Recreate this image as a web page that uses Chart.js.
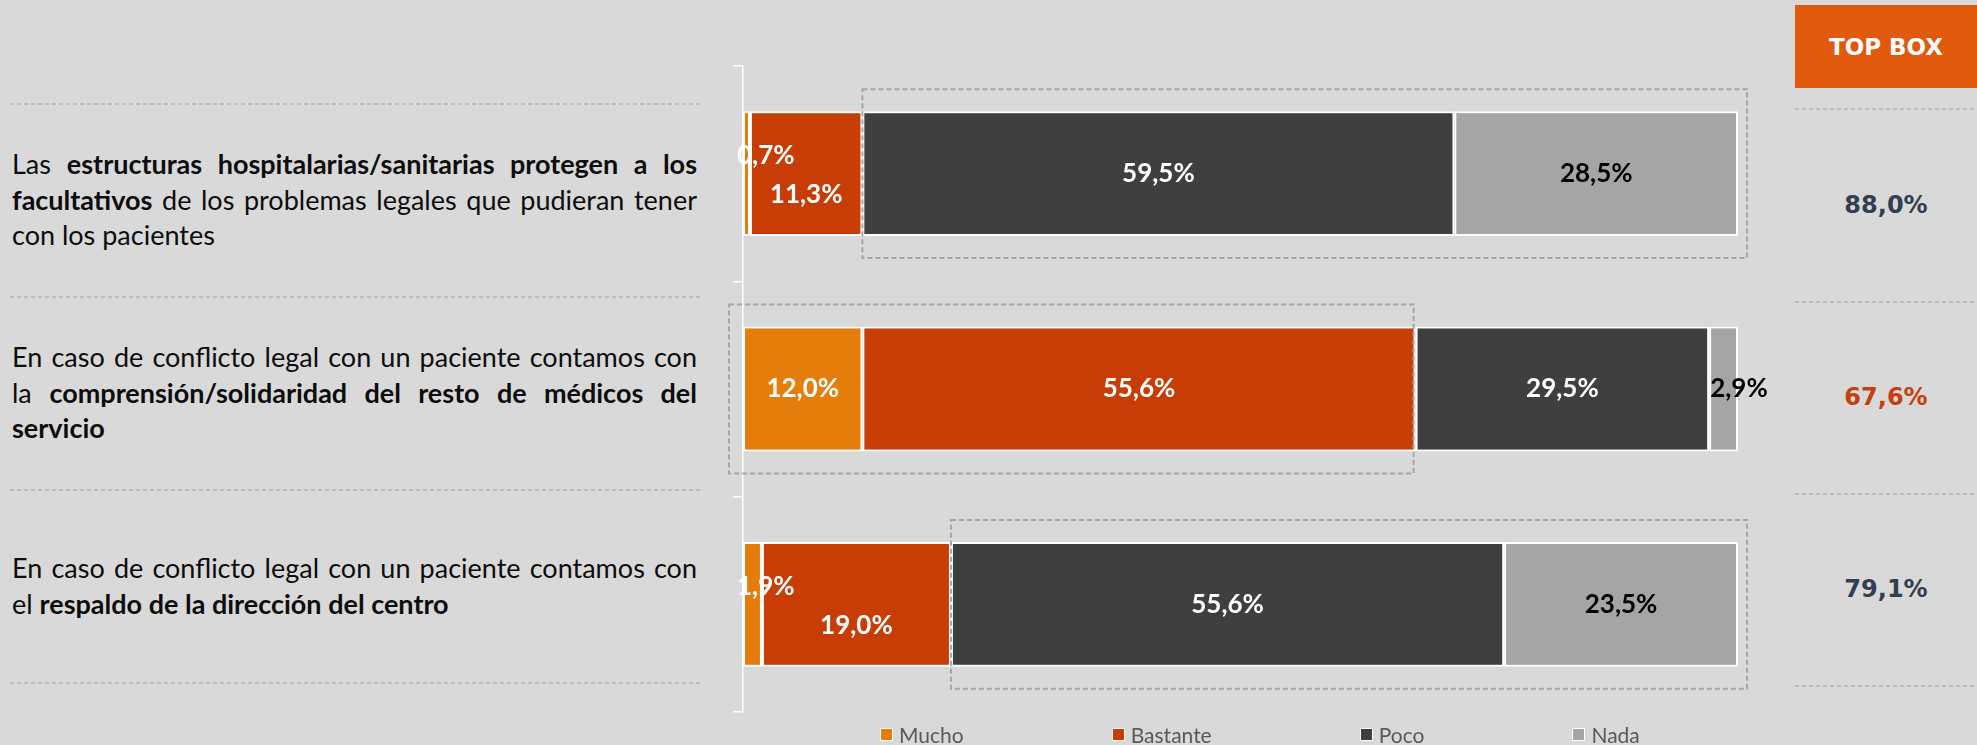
<!DOCTYPE html>
<html lang="es">
<head>
<meta charset="UTF-8">
<title>Respaldo ante conflictos legales - Top box</title>
<script src="https://cdn.jsdelivr.net/npm/chart.js"></script>
<style>
    html, body {
        margin: 0;
        height: 100%;
    }
    body {
        width: 1977px;
        height: 745px;
        position: relative;
        overflow: hidden;
        background: #d9d9d9;
        font-family: Lato, "Open Sans", sans-serif;
    }
    /* dashed separators */
    .sep {
        position: absolute;
        height: 2px;
        background: repeating-linear-gradient(90deg, #bdbdbd 0 4px, transparent 4px 7px);
    }
    .row-text {
        position: absolute;
        left: 12px;
        width: 685px;
        display: flex;
        flex-direction: column;
        justify-content: center;
        font-size: 27px;
        line-height: 35.5px;
        color: #0d0d0d;
    }
    .row-text .j {
        text-align: justify;
        text-align-last: justify;
        white-space: nowrap;
    }
    .top-head {
        position: absolute;
        left: 1795px;
        top: 5px;
        width: 182px;
        height: 83px;
        background: #e1590d;
        color: #fff;
        font: bold 23px "DejaVu Sans", sans-serif;
        display: flex;
        align-items: center;
        justify-content: center;
    }
    .top-val {
        position: absolute;
        left: 1795px;
        width: 182px;
        height: 30px;
        line-height: 30px;
        text-align: center;
        font: bold 24px "DejaVu Sans", sans-serif;
    }
    #chart-wrap {
        position: absolute;
        left: 700px;
        top: 0;
        width: 1077px;
        height: 745px;
    }
    #legend {
        position: absolute;
        left: 880px;
        top: 724px;
        height: 21px;
        display: flex;
        align-items: center;
        font-size: 21px;
        color: #595959;
    }
    #legend .item {
        display: flex;
        align-items: center;
        margin-right: 148px;
    }
    #legend .box {
        width: 11px;
        height: 11px;
        border: 1.5px solid #fff;
        margin-right: 6px;
    }
</style>
</head>
<body>

<div class="top-head">TOP BOX</div>
<div id="texts"></div>
<div id="chart-wrap"><canvas id="barChart"></canvas></div>
<div id="legend"></div>

<script>
    // --- data ---
    const categories = [
        'Las estructuras hospitalarias/sanitarias protegen a los facultativos de los problemas legales que pudieran tener con los pacientes',
        'En caso de conflicto legal con un paciente contamos con la comprensión/solidaridad del resto de médicos del servicio',
        'En caso de conflicto legal con un paciente contamos con el respaldo de la dirección del centro'
    ];
    // same texts, split in lines as shown (bold parts marked)
    const categoryLines = [
        ['Las <b>estructuras hospitalarias/sanitarias protegen a los</b>',
         '<b>facultativos</b> de los problemas legales que pudieran tener',
         'con los pacientes'],
        ['En caso de conflicto legal con un paciente contamos con',
         'la <b>comprensión/solidaridad del resto de médicos del</b>',
         '<b>servicio</b>'],
        ['En caso de conflicto legal con un paciente contamos con',
         'el <b>respaldo de la dirección del centro</b>']
    ];
    const seriesNames = ['Mucho', 'Bastante', 'Poco', 'Nada'];
    const mucho    = [0.7, 12.0, 1.9];
    const bastante = [11.3, 55.6, 19.0];
    const poco     = [59.5, 29.5, 55.6];
    const nada     = [28.5, 2.9, 23.5];
    const topBox = [88.0, 67.6, 79.1];
    const topBoxSeries = [['Poco', 'Nada'], ['Mucho', 'Bastante'], ['Poco', 'Nada']];

    const colors = ['#e47d0a', '#c83d06', '#3f3f3f', '#a5a5a5'];
    const labelColors = ['#fff', '#fff', '#fff', '#000'];

    const fmt = v => v.toFixed(1).replace('.', ',') + '%';

    // --- text column, separators and top box column ---
    const leftSeps = [103, 296, 489, 682];
    const rightSeps = [108, 301, 493, 685];
    const topBoxY = [206, 398, 590];
    const holder = document.getElementById('texts');

    leftSeps.forEach(y => {
        const d = document.createElement('div');
        d.className = 'sep';
        d.style.cssText = `left:10px;width:692px;top:${y}px`;
        holder.appendChild(d);
    });
    rightSeps.forEach(y => {
        const d = document.createElement('div');
        d.className = 'sep';
        d.style.cssText = `left:1795px;width:182px;top:${y}px`;
        holder.appendChild(d);
    });
    categoryLines.forEach((lines, i) => {
        const box = document.createElement('div');
        box.className = 'row-text';
        box.style.top = leftSeps[i] + 'px';
        box.style.height = (leftSeps[i + 1] - leftSeps[i]) + 'px';
        lines.forEach((html, k) => {
            const l = document.createElement('div');
            if (k < lines.length - 1) l.className = 'j';
            l.innerHTML = html;
            box.appendChild(l);
        });
        holder.appendChild(box);
    });
    topBox.forEach((v, i) => {
        const d = document.createElement('div');
        d.className = 'top-val';
        d.style.top = (topBoxY[i] - 15) + 'px';
        d.style.color = topBoxSeries[i].includes('Mucho') ? '#c5400e' : '#333f50';
        d.textContent = fmt(v);
        holder.appendChild(d);
    });

    // legend
    const legend = document.getElementById('legend');
    seriesNames.forEach((name, i) => {
        const it = document.createElement('div');
        it.className = 'item';
        it.innerHTML = `<span class="box" style="background:${colors[i]}"></span>${name}`;
        legend.appendChild(it);
    });

    // dashed frame around the top box segments
    const topBoxFrames = {
        id: 'topBoxFrames',
        afterDatasetsDraw(chart) {
            const {ctx, chartArea} = chart;
            ctx.save();
            ctx.strokeStyle = '#a6a6a6';
            ctx.lineWidth = 2;
            ctx.setLineDash([5, 3]);
            topBoxSeries.forEach((names, i) => {
                const idx = names.map(n => seriesNames.indexOf(n));
                const first = chart.getDatasetMeta(Math.min(...idx)).data[i];
                const last = chart.getDatasetMeta(Math.max(...idx)).data[i];
                let left = first.base;
                let right = last.x;
                if (left <= chartArea.left + 1) left -= 14;
                right += right >= chartArea.right - 1 ? 9 : -2;
                const top = first.y - first.height / 2 - 22;
                const bottom = first.y + first.height / 2 + 22;
                ctx.strokeRect(left, top, right - left, bottom - top);
            });
            ctx.restore();
        }
    };

    // value labels inside the bars
    const barLabels = {
        id: 'barLabels',
        afterDatasetsDraw(chart) {
            const {ctx} = chart;
            ctx.save();
            ctx.font = 'bold 26px Lato, sans-serif';
            ctx.textBaseline = 'middle';
            chart.data.datasets.forEach((ds, d) => {
                chart.getDatasetMeta(d).data.forEach((el, i) => {
                    const v = ds.data[i];
                    const firstSmall = chart.data.datasets[0].data[i] < 5;
                    let x = (el.x + el.base) / 2;
                    let y = el.y;
                    ctx.textAlign = 'center';
                    if (v < 5) {
                        ctx.textAlign = 'left';
                        x = d === 0 ? el.base - 6 : el.base + 1;
                        if (d === 0) y -= 18;
                    } else if (d === 1 && firstSmall) {
                        y += 21;
                    }
                    ctx.fillStyle = labelColors[d];
                    ctx.fillText(fmt(v), x, y);
                });
            });
            ctx.restore();
        }
    };

    const seriesData = [mucho, bastante, poco, nada];
    const barCtx = document.getElementById('barChart').getContext('2d');
    const barChart = new Chart(barCtx, {
        type: 'bar',
        data: {
            labels: categories,
            datasets: seriesNames.map((name, i) => ({
                label: name,
                data: seriesData[i],
                backgroundColor: colors[i],
                borderColor: '#ffffff',
                borderWidth: 2,
                borderSkipped: false,
                categoryPercentage: 1,
                barPercentage: 0.58
            }))
        },
        options: {
            indexAxis: 'y',
            responsive: true,
            maintainAspectRatio: false,
            animation: false,
            layout: {
                padding: {left: 33, right: 39, top: 66, bottom: 33}
            },
            scales: {
                x: {
                    stacked: true,
                    min: 0,
                    max: 100,
                    display: false
                },
                y: {
                    stacked: true,
                    ticks: {display: false},
                    grid: {
                        drawOnChartArea: false,
                        color: '#ffffff',
                        lineWidth: 1.5,
                        tickLength: 10,
                        offset: true
                    },
                    border: {color: '#ffffff', width: 1.5},
                    afterFit(scale) {
                        scale.width = 10;
                    }
                }
            },
            plugins: {
                legend: {display: false},
                tooltip: {enabled: false}
            }
        },
        plugins: [topBoxFrames, barLabels]
    });
</script>
</body>
</html>
